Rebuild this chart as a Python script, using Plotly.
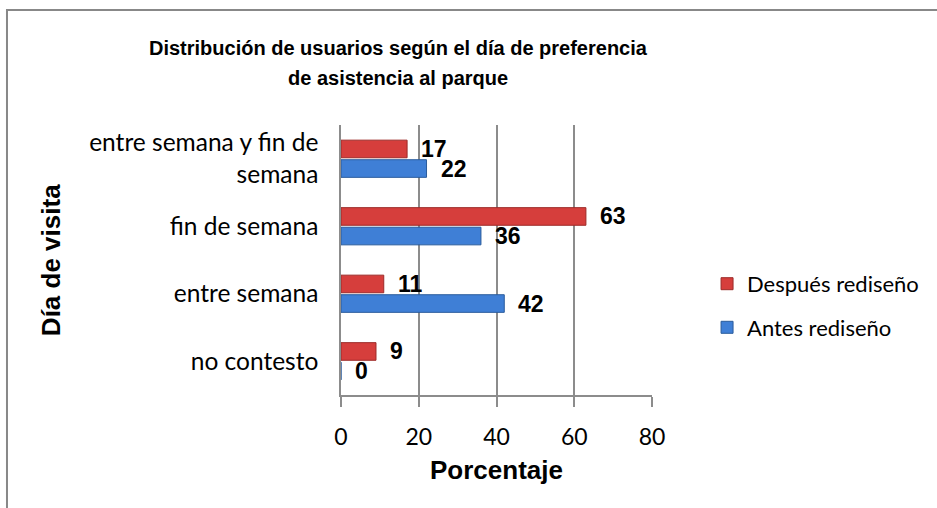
import plotly.graph_objects as go

categories = ["no contesto", "entre semana", "fin de semana", "entre semana y fin de<br>semana"]
antes = [0, 42, 36, 22]
despues = [9, 11, 63, 17]
x_ticks = [0, 20, 40, 60, 80]
title_lines = ["Distribución de usuarios según el día de preferencia", "de asistencia al parque"]

PLOT_L, PLOT_W, PLOT_B, PLOT_H = 341, 311, 113, 270
FIG_W, FIG_H = 937, 508


def px_to_paper(px_x, px_y_from_top):
    return (px_x - PLOT_L) / PLOT_W, (FIG_H - px_y_from_top - PLOT_B) / PLOT_H


fig = go.Figure()
fig.add_trace(go.Bar(
    y=categories, x=antes, orientation="h", name="Antes rediseño",
    legendrank=2, legendgroup="a",
    marker=dict(color="#3F7FD6", line=dict(color="#2A5C9C", width=1)),
))
fig.add_trace(go.Bar(
    y=categories, x=despues, orientation="h", name="Después rediseño",
    legendrank=1, legendgroup="d",
    marker=dict(color="#D63E3C", line=dict(color="#9C2A28", width=1)),
))

# value labels
for vals, shift in ((antes, -10), (despues, 10)):
    for c, v in zip(categories, vals):
        fig.add_annotation(x=v, y=c, text=f"<b>{v}</b>", showarrow=False,
                           xanchor="left", xshift=12, yshift=shift,
                           font=dict(family="Liberation Sans, Arial", size=23, color="black"))

# title (two lines)
for line, ypx in zip(title_lines, (48, 78)):
    tx, ty = px_to_paper(398, ypx)
    fig.add_annotation(x=tx, y=ty, xref="paper", yref="paper", text=f"<b>{line}</b>",
                       showarrow=False, xanchor="center", yanchor="middle",
                       font=dict(family="Liberation Sans, Arial", size=20, color="black"))

# axis titles
fig.add_annotation(x=-0.932, y=0.5, xref="paper", yref="paper", text="<b>Día de visita</b>",
                   textangle=-90, showarrow=False, xanchor="center", yanchor="middle",
                   font=dict(family="Liberation Sans, Arial", size=26, color="black"))
fig.add_annotation(x=0.5, y=-0.278, xref="paper", yref="paper", text="<b>Porcentaje</b>",
                   showarrow=False, xanchor="center", yanchor="middle",
                   font=dict(family="Liberation Sans, Arial", size=26, color="black"))

# outer border
fig.add_shape(type="rect", xref="paper", yref="paper",
              x0=-1.074, x1=1.95, y0=-0.45, y1=1.426,
              line=dict(color="#888888", width=2), fillcolor="rgba(0,0,0,0)", layer="below")

fig.update_layout(
    width=FIG_W, height=FIG_H,
    margin=dict(l=PLOT_L, r=FIG_W - PLOT_L - PLOT_W, t=FIG_H - PLOT_B - PLOT_H, b=PLOT_B, autoexpand=False),
    paper_bgcolor="white", plot_bgcolor="white",
    barmode="group", bargap=0.42, bargroupgap=0.1,
    xaxis=dict(range=[0, 80], tickvals=x_ticks, showgrid=True, gridcolor="#8C8C8C", gridwidth=1.5,
               showline=True, linecolor="#8C8C8C", linewidth=1.5, automargin=False,
               ticks="outside", ticklen=10, tickcolor="#8C8C8C", tickwidth=1.5,
               ticklabelstandoff=11, zeroline=False,
               tickfont=dict(family="Lato, Noto Sans", size=23, color="black")),
    yaxis=dict(showgrid=False, showline=True, linecolor="#8C8C8C", linewidth=1.5,
               ticks="", ticklabelstandoff=16, automargin=False,
               tickfont=dict(family="Lato, Noto Sans", size=24.5, color="black")),
    legend=dict(x=1.177, xanchor="left", y=0.33, yanchor="middle",
                traceorder="grouped", tracegroupgap=12,
                font=dict(family="Lato, Noto Sans", size=22, color="black")),
)

fig.write_html("out.html", config={"displayModeBar": False},
               post_script="document.body.style.margin='0';")
